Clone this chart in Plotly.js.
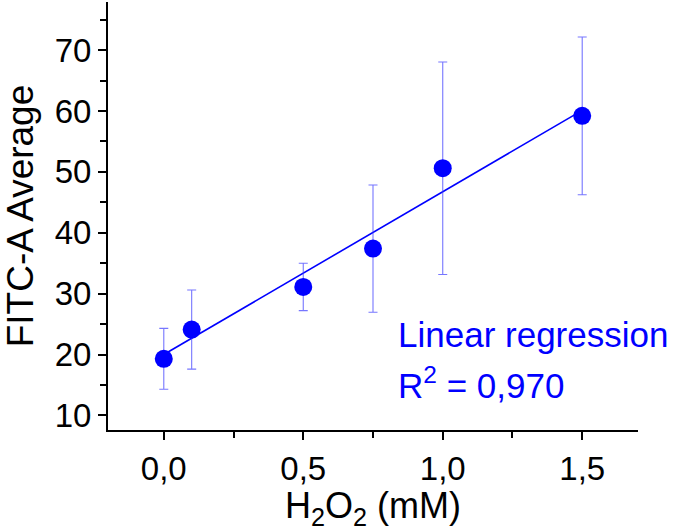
<!DOCTYPE html>
<html>
<head>
<meta charset="utf-8">
<script src="https://cdn.plot.ly/plotly-3.0.1.min.js"></script>
<style>html,body{margin:0;padding:0;background:#fff;}#chart{width:675px;height:531px;}</style>
</head>
<body>
<div id="chart"></div>
<script>
// Data
const h2o2 = [0, 0.1, 0.5, 0.75, 1.0, 1.5];
const fitcAvg = [19.3, 24.1, 31.1, 37.4, 50.6, 59.2];
const fitcErr = [5.0, 6.5, 3.9, 10.45, 17.45, 12.95];
const fitX = [0, 1.5];
const fitY = [20.0, 60.1];
const xTickVals = [0, 0.5, 1.0, 1.5];
const xTickText = ['0,0', '0,5', '1,0', '1,5'];
const yTickVals = [10, 20, 30, 40, 50, 60, 70];
const yTickText = ['10', '20', '30', '40', '50', '60', '70'];

const FONT = 'Liberation Sans, Arial, sans-serif';
const BLUE = '#0000ff';

const traces = [
  {
    x: fitX, y: fitY, type: 'scatter', mode: 'lines',
    line: {color: BLUE, width: 1.6}, hoverinfo: 'skip', showlegend: false
  },
  {
    x: h2o2, y: fitcAvg, type: 'scatter', mode: 'markers',
    marker: {color: BLUE, size: 18, line: {width: 0}},
    error_y: {type: 'data', array: fitcErr, visible: true, color: 'rgba(60,60,255,0.7)', thickness: 1.1, width: 4.5},
    showlegend: false
  }
];

const layout = {
  width: 675, height: 531,
  margin: {l: 108, r: 37, t: 2, b: 101},
  paper_bgcolor: '#fff', plot_bgcolor: '#fff',
  showlegend: false,
  font: {family: FONT, color: '#000'},
  xaxis: {
    range: [-0.2, 1.7],
    showgrid: false, zeroline: false,
    showline: true, linecolor: '#000', linewidth: 2,
    ticks: 'outside', ticklen: 8, tickwidth: 2, tickcolor: '#000',
    tickvals: xTickVals, ticktext: xTickText,
    tickfont: {family: FONT, size: 33, color: '#000'},
    minor: {dtick: 0.25, tick0: 0, ticks: 'outside', ticklen: 6, tickwidth: 2, tickcolor: '#000'},
    title: {text: 'H<sub>2</sub>O<sub>2</sub> (mM)', font: {family: FONT, size: 36, color: '#000'}, standoff: 6},
    automargin: false
  },
  yaxis: {
    range: [7.6, 77.9],
    showgrid: false, zeroline: false,
    showline: true, linecolor: '#000', linewidth: 2,
    ticks: 'outside', ticklen: 8, tickwidth: 2, tickcolor: '#000',
    tickvals: yTickVals, ticktext: yTickText,
    tickfont: {family: FONT, size: 33, color: '#000'},
    minor: {dtick: 5, tick0: 0, ticks: 'outside', ticklen: 6, tickwidth: 2, tickcolor: '#000'},
    title: {text: 'FITC-A Average', font: {family: FONT, size: 37, color: '#000'}, standoff: 18},
    automargin: false
  },
  annotations: [
    {x: 0.832, y: 23.3, xref: 'x', yref: 'y', xanchor: 'left', yanchor: 'middle',
     text: 'Linear regression', showarrow: false, font: {family: FONT, size: 35, color: BLUE}},
    {x: 0.832, y: 15.4, xref: 'x', yref: 'y', xanchor: 'left', yanchor: 'middle',
     text: 'R<sup>2</sup> = 0,970', showarrow: false, font: {family: FONT, size: 35, color: BLUE}}
  ]
};

Plotly.newPlot('chart', traces, layout, {displayModeBar: false, staticPlot: true});
</script>
</body>
</html>
